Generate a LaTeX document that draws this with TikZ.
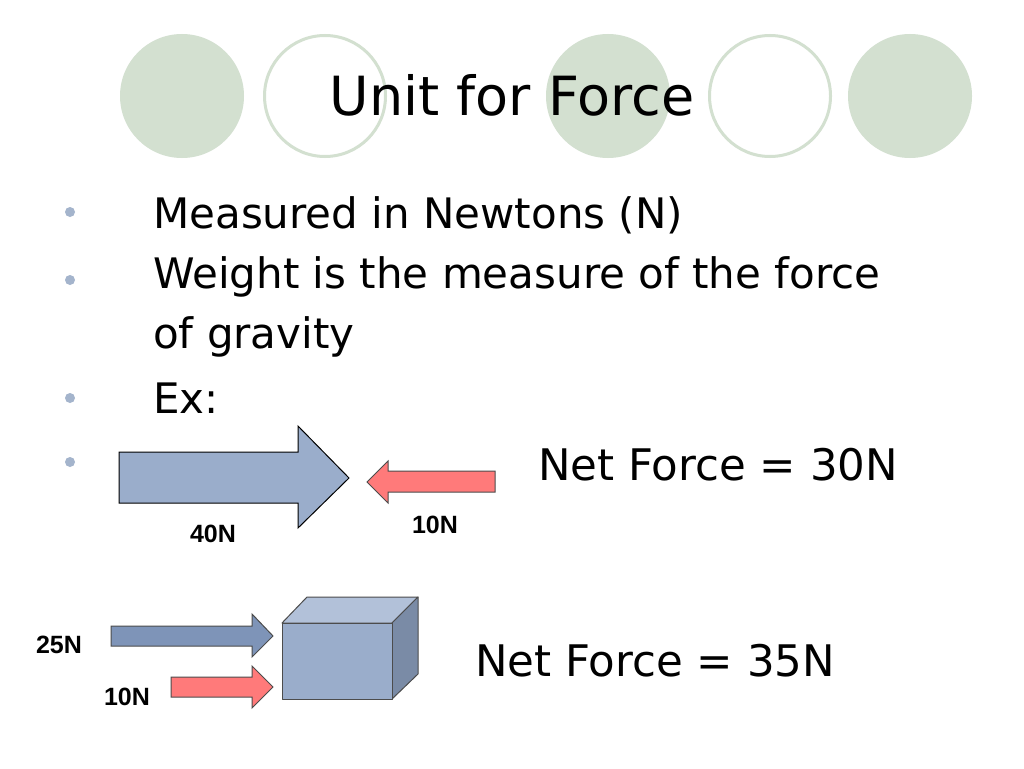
\documentclass[tikz,border=0pt]{standalone}
\usepackage{fontspec}
\setmainfont{DejaVu Sans}
\setsansfont{Liberation Sans}
\usepackage{xcolor}
\definecolor{sage}{RGB}{211,224,208}
\definecolor{dotblue}{RGB}{164,180,204}
\definecolor{steel}{RGB}{154,173,203}
\definecolor{steeldark}{RGB}{126,148,184}
\definecolor{steeltop}{RGB}{178,193,217}
\definecolor{steelside}{RGB}{122,139,166}
\definecolor{salmon}{RGB}{255,122,122}
\usetikzlibrary{positioning}
\tikzset{
    disc/.style={
    circle,fill=sage,minimum size=124pt,inner sep=0pt
    },
    ring/.style={
    circle,draw=sage,line width=3pt,minimum size=121pt,inner sep=0pt
    },
    dot/.style={
    circle,fill=dotblue,minimum size=10pt,inner sep=0pt
    },
    title/.style={anchor=base,inner sep=0pt,font=\fontsize{54}{60}\selectfont},
    item/.style={anchor=base west,inner sep=0pt,font=\fontsize{42}{60}\selectfont},
    netf/.style={anchor=base west,inner sep=0pt,font=\fontsize{43.5}{50}\selectfont},
    lbl/.style={inner sep=0pt,font=\sffamily\bfseries\fontsize{25}{30}\selectfont},
    bluearr/.style={draw=black,fill=steel,line width=1pt,line join=miter},
    darkarr/.style={draw=black!70,fill=steeldark,line width=1pt},
    redarr/.style={draw=black!70,fill=salmon,line width=1pt},
    face/.style={draw=black!70,line width=1pt,line join=round},
}

\begin{document}
\begin{tikzpicture}[x=1pt,y=-1pt]
\useasboundingbox[fill=white] (0,0) rectangle (1024,768);

% header circles
\node[disc] (c1) at (182,96) {};
\node[ring] (c2) at (325,96) {};
\node[disc] (c3) at (608,96) {};
\node[ring] (c4) at (770,96) {};
\node[disc] (c5) at (910,96) {};
\node[title] (head) at (512,115) {Unit for Force};

% bullets
\foreach \y [count=\i] in {212,280,398,462}
  \node[dot] (b\i) at (70,\y) {};
\node[item] (newton) at (153,228) {Measured in Newtons (N)};
\node[item] (weight) at (153,288) {Weight is the measure of the force};
\node[item] (gravity) at (153,348) {of gravity};
\node[item] (ex) at (153,413) {Ex:};

% first example
\draw[bluearr] (119,452) -- (298,452) -- (298,426) -- (349,478) -- (298,528) -- (298,503) -- (119,503) -- cycle;
\draw[redarr] (495,471) -- (388,471) -- (388,461) -- (367,482) -- (388,503) -- (388,492) -- (495,492) -- cycle;
\node[lbl] (f40) at (213,534) {40N};
\node[lbl] (f10a) at (435,525) {10N};
\node[netf] (net30) at (538,480) {Net Force = 30N};

% second example
\draw[darkarr] (111,626) -- (252,626) -- (252,614) -- (273,636) -- (252,657) -- (252,646) -- (111,646) -- cycle;
\draw[redarr] (171,677) -- (252,677) -- (252,666) -- (273,687) -- (252,708) -- (252,697) -- (171,697) -- cycle;
\node[lbl] (f25) at (59,645) {25N};
\node[lbl] (f10b) at (127,697) {10N};
\draw[face,fill=steeltop] (282,623) -- (307,597) -- (418,597) -- (392,623) -- cycle;
\draw[face,fill=steelside] (392,623) -- (418,597) -- (418,674) -- (392,699) -- cycle;
\draw[face,fill=steel] (282,623) rectangle (392,699);
\node[netf] (net35) at (475,676) {Net Force = 35N};
\end{tikzpicture}
\end{document}
